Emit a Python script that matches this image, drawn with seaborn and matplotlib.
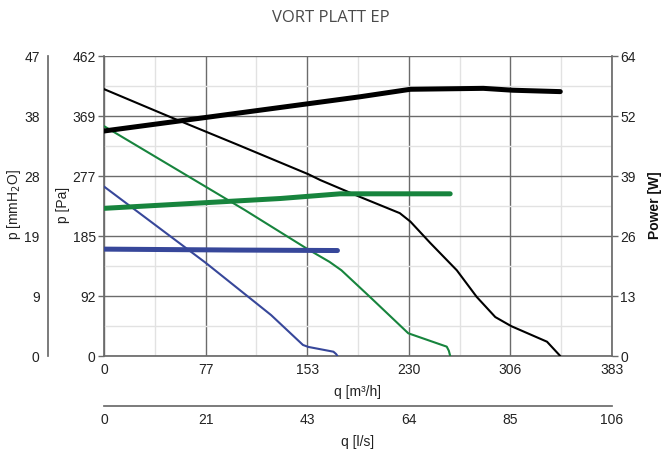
import matplotlib
matplotlib.use("Agg")
import matplotlib.pyplot as plt
import seaborn as sns
import pandas as pd
import numpy as np

sns.set_theme(style="white")
plt.rcParams['font.family'] = ['Liberation Sans', 'DejaVu Sans']

# ---- data ----
# pressure curves (q [m3/h], p [Pa])
black_q = [0, 50, 100, 154, 163, 193, 223, 231, 246, 266, 281, 295, 307, 334, 344]
black_p = [411, 368, 326, 280, 271, 245, 220, 207, 174, 132, 91, 60, 46, 22, 0]
green_q = [0, 106, 154, 170, 179, 200.5, 229.4, 258.4, 260, 261]
green_p = [354, 225, 164, 145, 132, 91, 35, 14.4, 8, 0]
blue_q = [0, 77, 126, 150, 154, 173, 175, 176]
blue_p = [261, 143, 63, 17, 14, 6.6, 3, 0]
# power curves (q [m3/h], P [W])
black_wq = [0, 77, 193, 231, 286, 308, 344]
black_w = [48, 50.9, 55.3, 56.9, 57.1, 56.7, 56.4]
green_wq = [0, 133, 178, 261]
green_w = [31.5, 33.6, 34.6, 34.6]
blue_wq = [0, 100, 176]
blue_w = [22.8, 22.6, 22.5]

x_ticks = [0, 76.6, 153.2, 229.8, 306.4, 383]
x_labels = ["0", "77", "153", "230", "306", "383"]
pa_ticks = [0, 92.4, 184.8, 277.2, 369.6, 462]
pa_labels = ["0", "92", "185", "277", "369", "462"]
mm_ticks = [0, 9.4, 18.8, 28.2, 37.6, 47]
mm_labels = ["0", "9", "19", "28", "38", "47"]
w_ticks = [0, 12.8, 25.6, 38.4, 51.2, 64]
w_labels = ["0", "13", "26", "39", "52", "64"]
ls_ticks = [0, 21.2, 42.4, 63.6, 84.8, 106]
ls_labels = ["0", "21", "43", "64", "85", "106"]

BLACK = "#000000"
GREEN = "#17843d"
BLUE = "#37479a"

fig = plt.figure(figsize=(6.65, 4.5), dpi=100)
L, B, W, H = 104/665, 1-356/450, 508/665, 300/450
ax = fig.add_axes([L, B, W, H])
ax2 = ax.twinx()

def df(q, v):
    return pd.DataFrame({"q": q, "v": v})

# pressure curves
for q, p, c in [(black_q, black_p, BLACK), (green_q, green_p, GREEN), (blue_q, blue_p, BLUE)]:
    sns.lineplot(data=df(q, p), x="q", y="v", ax=ax, color=c, linewidth=1.5, sort=False, zorder=3)
# power curves
for q, w, c in [(black_wq, black_w, BLACK), (green_wq, green_w, GREEN), (blue_wq, blue_w, BLUE)]:
    sns.lineplot(data=df(q, w), x="q", y="v", ax=ax2, color=c, linewidth=3.6, sort=False, zorder=3)

ax.set_xlim(0, 383)
ax.set_ylim(0, 462)
ax2.set_ylim(0, 64)

# grid
ax.set_xticks(x_ticks)
ax.set_xticklabels(x_labels)
ax.set_yticks(pa_ticks)
ax.set_yticklabels(pa_labels)
ax.set_xticks([38.3, 114.9, 191.5, 268.1, 344.7], minor=True)
ax.set_yticks([46.2, 138.6, 231, 323.4, 415.8], minor=True)
ax.grid(True, which="major", color="#6b6b6b", linewidth=1.0, zorder=1)
ax.grid(True, which="minor", color="#e2e2e2", linewidth=1.0, zorder=0)
ax.set_axisbelow(True)

ax2.set_yticks(w_ticks)
ax2.set_yticklabels(w_labels)
ax2.grid(False)

for a in (ax, ax2):
    for s in a.spines.values():
        s.set_visible(False)
ax.spines["left"].set_visible(True)
ax.spines["left"].set_color("#6b6b6b")
ax.spines["bottom"].set_visible(True)
ax.spines["bottom"].set_color("#6b6b6b")
ax2.spines["right"].set_visible(True)
ax2.spines["right"].set_color("#6b6b6b")

FS = 10
tick_kw = dict(labelsize=FS, colors="#222222", length=4, width=1, direction="out")
ax.tick_params(axis="both", which="major", **tick_kw)
ax.tick_params(axis="x", which="major", pad=1, length=4)
ax.tick_params(axis="both", which="minor", length=0)
ax.tick_params(axis="y", colors="#6b6b6b", labelcolor="#222222", pad=2)
ax.tick_params(axis="x", colors="#6b6b6b", labelcolor="#222222")
ax2.tick_params(axis="y", which="major", labelsize=FS, colors="#6b6b6b", labelcolor="#222222",
                length=4, width=1, direction="out", pad=2)
ax2.tick_params(axis="y", which="minor", length=0)

ax.set_xlabel("q [m³/h]", fontsize=FS, color="#222222", labelpad=6)
ax.set_ylabel("")
ax2.set_ylabel("")
ax.set_xlabel("q [m³/h]", fontsize=FS, color="#222222", labelpad=6)

# outer mmH2O axis
axm = fig.add_axes([48/665, B, 0.0001, H])
axm.set_ylim(0, 47)
axm.set_xticks([])
for s in axm.spines.values():
    s.set_visible(False)
axm.spines["left"].set_visible(True)
axm.spines["left"].set_color("#6b6b6b")
axm.set_yticks(mm_ticks)
axm.set_yticklabels(mm_labels)
axm.tick_params(axis="y", labelsize=FS, colors="#6b6b6b", labelcolor="#222222",
                length=4, width=1, direction="out", pad=2)
axm.patch.set_alpha(0)

# bottom l/s axis
axl = fig.add_axes([L, 1-406/450, W, 0.0001])
axl.set_xlim(0, 106)
axl.set_yticks([])
for s in axl.spines.values():
    s.set_visible(False)
axl.spines["bottom"].set_visible(True)
axl.spines["bottom"].set_color("#6b6b6b")
axl.set_xticks(ls_ticks)
axl.set_xticklabels(ls_labels)
axl.tick_params(axis="x", labelsize=FS, colors="#6b6b6b", labelcolor="#222222",
                length=4, width=1, direction="out", pad=1)
axl.set_xlabel("q [l/s]", fontsize=FS, color="#222222", labelpad=6)
axl.patch.set_alpha(0)

# axis titles placed as figure text
fig.text(14/665, 1-205/450, "p [mmH$_2$O]", rotation=90, ha="center", va="center",
         fontsize=FS, color="#222222")
fig.text(63/665, 1-205/450, "p [Pa]", rotation=90, ha="center", va="center",
         fontsize=FS, color="#222222")
fig.text(655/665, 1-205/450, "Power [W]", rotation=90, ha="center", va="center",
         fontsize=FS, color="#111111", fontweight="bold")

fig.text(0.497, 1-18/450, "VORT PLATT EP", ha="center", va="center",
         fontsize=12, color="#4a4a4a", family=["Open Sans", "DejaVu Sans"])

fig.savefig("out.png", dpi=100)
